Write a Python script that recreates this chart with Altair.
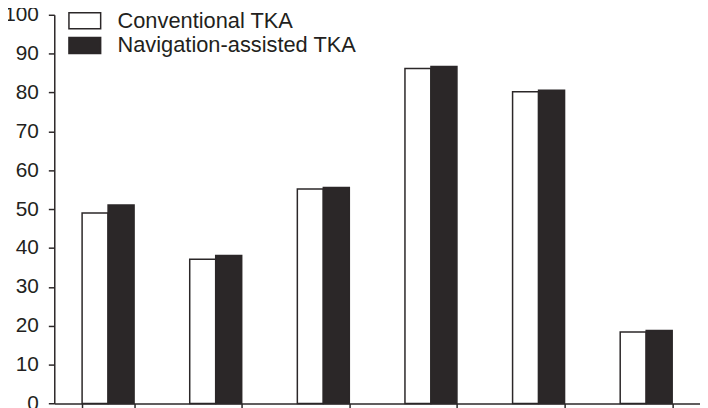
import altair as alt
import pandas as pd

groups = ["1", "2", "3", "4", "5", "6"]
series_names = ["Conventional TKA", "Navigation-assisted TKA"]
conventional = [49.0, 37.1, 55.2, 86.2, 80.2, 18.4]
navigation = [51.1, 38.1, 55.6, 86.7, 80.6, 18.8]

rows = []
for g, c, n in zip(groups, conventional, navigation):
    rows.append({"group": g, "series": series_names[0], "value": c})
    rows.append({"group": g, "series": series_names[1], "value": n})
df = pd.DataFrame(rows)

DARK = "#2b2728"
TEXT = "#231f20"
FONT = "Liberation Sans"

chart = alt.Chart(df).mark_bar(stroke=DARK, strokeWidth=1.5, opacity=1).encode(
    x=alt.X(
        "group:N",
        sort=groups,
        scale=alt.Scale(paddingInner=0.517, paddingOuter=0.2585),
        axis=alt.Axis(
            title="", labels=False, domainColor=DARK, domainWidth=1.5,
            tickColor=DARK, tickWidth=1.5, tickSize=6, tickBand="extent",
        ),
    ),
    xOffset=alt.XOffset("series:N", sort=series_names),
    y=alt.Y(
        "value:Q",
        scale=alt.Scale(domain=[0, 100], nice=False),
        axis=alt.Axis(
            title="", values=list(range(0, 101, 10)), grid=False,
            domainColor=DARK, domainWidth=1.5, tickColor=DARK, tickWidth=1.5,
            tickSize=6, labelPadding=10, labelFont=FONT, labelFontSize=21,
            labelColor=TEXT,
        ),
    ),
    color=alt.Color(
        "series:N",
        sort=series_names,
        scale=alt.Scale(domain=series_names, range=["#ffffff", DARK]),
        legend=alt.Legend(
            title=None, orient="none", legendX=19.8, legendY=-5,
            symbolType="M-2,-1H2V1H-2Z", symbolSize=256,
            symbolStrokeColor=DARK, symbolStrokeWidth=1.5, symbolOpacity=1,
            labelFont=FONT, labelFontSize=22, labelColor=TEXT, labelLimit=500,
            labelOffset=22, rowPadding=3, padding=0,
        ),
    ),
).properties(
    width=651.6,
    height=392.3,
    autosize=alt.AutoSizeParams(type="none"),
    padding={"left": 46.7, "top": 5, "right": 0, "bottom": 10},
).configure_view(strokeWidth=0)

chart.save("out.html", embed_options={"renderer": "svg", "actions": False})
